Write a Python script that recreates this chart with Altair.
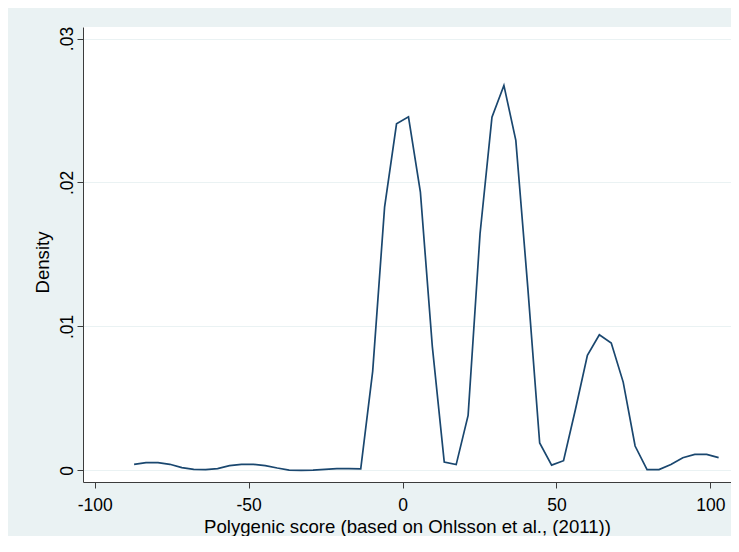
import altair as alt
import pandas as pd

# Evaluation points of the kernel density (Polygenic score)
score = [-87.20, -83.33, -79.45, -75.58, -71.70, -67.83, -63.95, -60.08, -56.20, -52.33,
         -48.45, -44.58, -40.70, -36.83, -32.95, -29.08, -25.20, -21.33, -17.45, -13.58,
         -9.70, -5.83, -1.95, 1.93, 5.80, 9.68, 13.55, 17.43, 21.30, 25.18,
         29.05, 32.93, 36.80, 40.68, 44.55, 48.43, 52.30, 56.18, 60.05, 63.93,
         67.80, 71.68, 75.55, 79.43, 83.30, 87.18, 91.05, 94.93, 98.80, 102.68]

# Estimated density values
density = [0.00042, 0.00053, 0.00053, 0.00042, 0.00019, 0.00007, 0.00005, 0.00012, 0.00033, 0.00042,
           0.00042, 0.00033, 0.00016, 0.00002, 0.00000, 0.00002, 0.00007, 0.00012, 0.00012, 0.00010,
           0.00688, 0.01829, 0.02407, 0.02456, 0.01933, 0.00860, 0.00058, 0.00040, 0.00382, 0.01644,
           0.02454, 0.02674, 0.02292, 0.01273, 0.00190, 0.00036, 0.00067, 0.00424, 0.00799, 0.00942,
           0.00884, 0.00613, 0.00169, 0.00005, 0.00005, 0.00040, 0.00088, 0.00111, 0.00111, 0.00088]

x_ticks = [-100, -50, 0, 50, 100]
y_ticks = [0, 0.01, 0.02, 0.03]

x_title = "Polygenic score (based on Ohlsson et al., (2011))"
y_title = "Density"

df = pd.DataFrame({"score": score, "density": density})

FONT = "Liberation Sans"
AXIS_COLOR = "#3c3c3c"
BG = "#EAF2F3"

line = alt.Chart(df).mark_line(color="#1a476f", strokeWidth=1.7, clip=True).encode(
    x=alt.X(
        "score:Q",
        scale=alt.Scale(domain=[-103.8, 106.7], nice=False, zero=False),
        axis=alt.Axis(
            values=x_ticks,
            title=x_title,
            grid=False,
            labelExpr="datum.value + ''",
            labelFlush=False,
            labelOverlap=False,
            labelBaseline="top",
            labelPadding=8,
            titleX=324,
            titleY=50,
            titleAlign="center",
            titleBaseline="alphabetic",
            titleFontSize=18.6,
        ),
    ),
    y=alt.Y(
        "density:Q",
        scale=alt.Scale(domain=[-0.00081, 0.0308], nice=False, zero=False),
        axis=alt.Axis(
            values=y_ticks,
            title=y_title,
            grid=True,
            gridColor=BG,
            gridWidth=1.2,
            labelExpr="datum.value == 0 ? '0' : replace(format(datum.value, '.2f'), '0.', '.')",
            labelAngle=270,
            labelAlign="center",
            labelBaseline="alphabetic",
            labelPadding=5,
            labelFlush=False,
            labelOverlap=False,
            titleAngle=270,
            titleX=-34.5,
            titleY=235,
            titleAlign="center",
            titleBaseline="alphabetic",
            titleFontSize=18.6,
        ),
    ),
)

chart = line.properties(
    width=648,
    height=455,
    background=BG,
    padding={"left": 75, "top": 19, "right": 0, "bottom": 54},
    autosize=alt.AutoSizeParams(type="none"),
).configure_view(
    fill="white",
    strokeWidth=0,
).configure_axis(
    domainColor=AXIS_COLOR,
    domainWidth=1,
    tickColor=AXIS_COLOR,
    tickWidth=1,
    tickSize=6,
    labelFont=FONT,
    labelFontSize=17.5,
    labelColor="#000000",
    titleFont=FONT,
    titleFontWeight="normal",
    titleColor="#000000",
)

chart.save("out.html", embed_options={"renderer": "svg", "actions": False})
